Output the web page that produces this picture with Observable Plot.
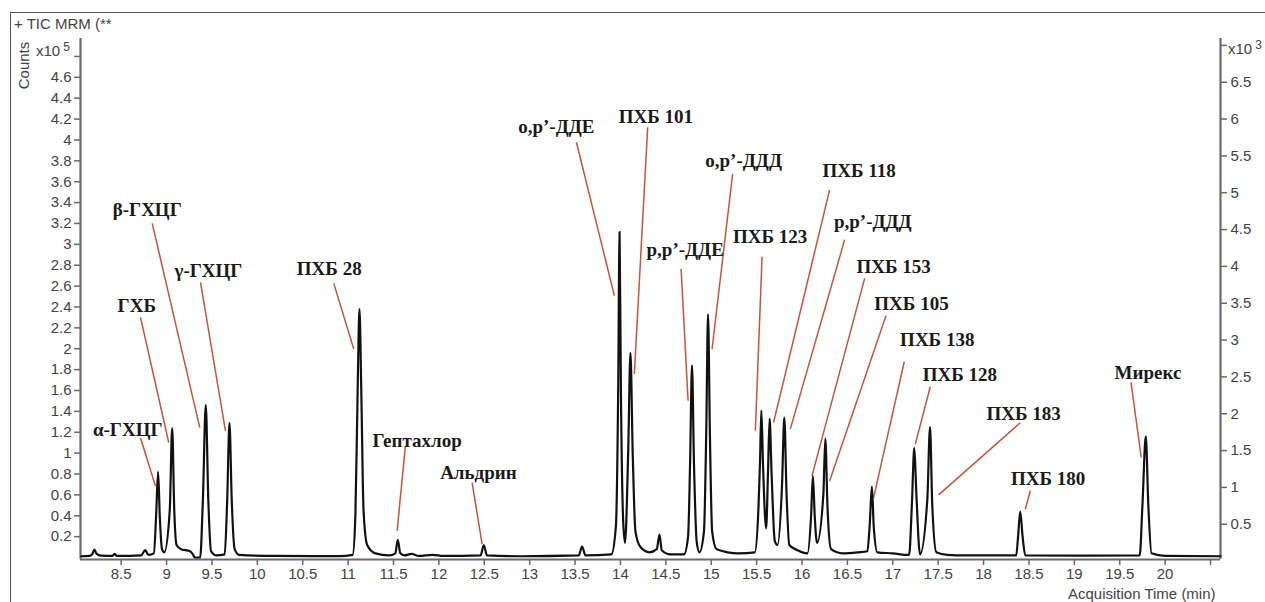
<!DOCTYPE html>
<html>
<head>
<meta charset="utf-8">
<script src="https://cdn.jsdelivr.net/npm/d3@7"></script>
<script src="https://cdn.jsdelivr.net/npm/@observablehq/plot@0.6"></script>
<style>
  html, body { margin: 0; padding: 0; background: #fff; overflow: hidden; }
  #wrap { position: relative; width: 1265px; height: 602px; }
  #frame { position: absolute; left: 10px; top: 12px; width: 1300px; height: 700px; border: 1.5px solid #555; }
  .ann { position: absolute; font-family: "Liberation Sans", Arial, sans-serif; font-size: 15px; color: #444; white-space: nowrap; }
  sup { font-size: 12px; vertical-align: 5px; margin-left: 3px; }
</style>
</head>
<body>
<div id="wrap">
  <div id="frame"></div>
  <div id="chart" style="position:absolute;left:0;top:0;"></div>
  <div class="ann" style="left:14px;top:15px;">+ TIC MRM (**</div>
  <div class="ann" style="left:15px;top:57px;transform:rotate(-90deg);transform-origin:center;width:50px;margin-left:-17px;text-align:center;">Counts</div>
  <div class="ann" style="left:36px;top:40px;">x10<sup>5</sup></div>
  <div class="ann" style="left:1228px;top:38px;">x10<sup>3</sup></div>
  <div class="ann" style="left:1068px;top:585px;">Acquisition Time (min)</div>
</div>
<script>
// Chromatogram trace (time in min, counts ×10^5)
const retentionTime = [
  8.06, 8.15, 8.18, 8.205, 8.23, 8.28, 8.40, 8.43, 8.45, 8.72, 8.765, 8.80, 8.86,
  8.885, 8.907, 8.925, 8.95, 8.975, 9.035, 9.062, 9.085, 9.11, 9.16, 9.26, 9.29, 9.31, 9.37,
  9.40, 9.432, 9.46, 9.49, 9.55, 9.64, 9.668, 9.693, 9.718, 9.75, 9.80, 10.2, 10.9,
  11.05, 11.08, 11.105, 11.125, 11.145, 11.17, 11.21, 11.30, 11.45, 11.52, 11.547, 11.575,
  11.62, 11.70, 11.78, 11.93, 12.05, 12.46, 12.494, 12.53, 12.9, 13.54, 13.577, 13.615,
  13.90, 13.95, 13.975, 13.99, 14.005, 14.03, 14.05, 14.085, 14.11, 14.135, 14.165, 14.22,
  14.32, 14.40, 14.43, 14.455, 14.55, 14.70, 14.745, 14.767, 14.788, 14.81, 14.84, 14.87,
  14.92, 14.945, 14.965, 14.985, 15.01, 15.06, 15.30, 15.48, 15.52, 15.537, 15.552, 15.57,
  15.605, 15.625, 15.643, 15.665, 15.70, 15.73, 15.78, 15.805, 15.83, 15.86, 15.95, 16.06,
  16.10, 16.12, 16.14, 16.165, 16.235, 16.257, 16.28, 16.32, 16.45, 16.62, 16.72, 16.745,
  16.77, 16.79, 16.83, 17.0, 17.18, 17.21, 17.237, 17.26, 17.3, 17.38, 17.41, 17.435, 17.48,
  17.6, 17.8, 18.1, 18.36, 18.38, 18.404, 18.43, 18.46, 19.0, 19.72, 19.75, 19.787, 19.815,
  19.85, 20.0, 20.61
];
const intensity = [
  0.012, 0.015, 0.03, 0.075, 0.035, 0.018, 0.015, 0.035, 0.015, 0.02, 0.07, 0.025, 0.04,
  0.4, 0.82, 0.4, 0.08, 0.05, 0.45, 1.24, 0.45, 0.12, 0.08, 0.06, 0.03, 0.0, 0.0,
  0.55, 1.46, 0.55, 0.06, 0.02, 0.03, 0.55, 1.29, 0.55, 0.08, 0.025, 0.015, 0.013,
  0.025, 0.4, 1.6, 2.38, 1.6, 0.45, 0.12, 0.04, 0.02, 0.04, 0.17, 0.04,
  0.02, 0.035, 0.015, 0.025, 0.015, 0.02, 0.12, 0.02, 0.012, 0.02, 0.105, 0.02,
  0.03, 0.3, 1.6, 3.12, 1.6, 0.35, 0.14, 1.0, 1.96, 1.0, 0.25, 0.1,
  0.05, 0.08, 0.22, 0.07, 0.03, 0.03, 0.2, 0.9, 1.84, 0.9, 0.15, 0.05,
  0.25, 1.2, 2.33, 1.2, 0.25, 0.08, 0.04, 0.05, 0.47, 0.9, 1.41, 0.9,
  0.28, 0.8, 1.33, 0.8, 0.16, 0.12, 0.7, 1.34, 0.6, 0.12, 0.07, 0.04,
  0.4, 0.78, 0.4, 0.14, 0.6, 1.14, 0.5, 0.08, 0.04, 0.05, 0.06, 0.3,
  0.68, 0.3, 0.05, 0.04, 0.025, 0.5, 1.05, 0.6, 0.03, 0.55, 1.25, 0.5, 0.05,
  0.025, 0.02, 0.02, 0.02, 0.2, 0.44, 0.2, 0.02, 0.018, 0.02, 0.5, 1.16, 0.5,
  0.04, 0.015, 0.012
];

// Peak labels: name, label centre (time, counts), leader from -> to
const labelNames = ["α-ГХЦГ", "ГХБ", "β-ГХЦГ", "γ-ГХЦГ", "ПХБ 28", "Гептахлор", "Альдрин",
  "o,p’-ДДЕ", "ПХБ 101", "p,p’-ДДЕ", "o,p’-ДДД", "ПХБ 123", "ПХБ 118", "p,p’-ДДД",
  "ПХБ 153", "ПХБ 105", "ПХБ 138", "ПХБ 128", "ПХБ 183", "ПХБ 180", "Мирекс"];
const labelTime = [8.572, 8.672, 8.787, 9.462, 10.792, 11.760, 12.435, 13.294, 14.390, 14.713,
  15.357, 15.648, 16.629, 16.780, 17.009, 17.206, 17.490, 17.740, 18.441, 18.711, 19.811];
const labelCounts = [1.223, 2.412, 3.330, 2.748, 2.764, 1.118, 0.814, 4.128, 4.224, 2.946,
  3.802, 3.067, 3.700, 3.211, 2.786, 2.429, 2.086, 1.748, 1.374, 0.751, 1.773];
const leaderTime1 = [8.713, 8.713, 8.842, 9.374, 10.842, 11.631, 12.366, 13.515, 14.300, 14.668,
  15.236, 15.560, 16.304, 16.470, 16.690, 16.925, 17.127, 17.413, 18.404, 18.515, 19.624];
const leaderCounts1 = [1.144, 2.300, 3.201, 2.636, 2.626, 1.070, 0.718, 3.978, 4.122, 2.764,
  3.675, 2.882, 3.522, 3.045, 2.674, 2.316, 1.878, 1.636, 1.291, 0.639, 1.677];
const leaderTime2 = [8.878, 9.024, 9.366, 9.649, 11.062, 11.540, 12.476, 13.933, 14.153, 14.745,
  15.009, 15.486, 15.687, 15.871, 16.110, 16.304, 16.789, 17.248, 17.505, 18.460, 19.737];
const leaderCounts2 = [0.686, 1.102, 1.245, 1.214, 1.997, 0.255, 0.128, 2.508, 1.757, 1.501,
  1.997, 1.214, 1.293, 1.230, 0.782, 0.734, 0.574, 1.086, 0.600, 0.463, 0.958];

// Axis ticks
const xTicks = [8.5, 9, 9.5, 10, 10.5, 11, 11.5, 12, 12.5, 13, 13.5, 14, 14.5, 15, 15.5, 16,
  16.5, 17, 17.5, 18, 18.5, 19, 19.5, 20];
const xExtraTicks = [20.5];
const leftTicks = [0.2, 0.4, 0.6, 0.8, 1, 1.2, 1.4, 1.6, 1.8, 2, 2.2, 2.4, 2.6, 2.8, 3, 3.2,
  3.4, 3.6, 3.8, 4, 4.2, 4.4, 4.6];
const leftExtraTicks = [4.8];
const rightTicks = [0.5, 1, 1.5, 2, 2.5, 3, 3.5, 4, 4.5, 5, 5.5, 6, 6.5];
const rightTickLabels = ["0.5", "1", "1.5", "2", "2.5", "3", "3.5", "4", "4.5", "5", "5.5", "6", "6.5"];
const rightExtraTicks = [7];

// right axis (×10^3) expressed in left-axis units (×10^5)
const rightToLeft = d3.scaleLinear().domain([0, 6.5]).range([-0.034, 4.553]);
const rightPos = rightTicks.map(r => rightToLeft(r));
const rightExtraPos = rightExtraTicks.map(r => rightToLeft(r));

const trace = retentionTime.map((t, i) => ({t, v: intensity[i]}));
const labels = labelNames.map((name, i) => ({
  name, t: labelTime[i], v: labelCounts[i],
  t1: leaderTime1[i], v1: leaderCounts1[i], t2: leaderTime2[i], v2: leaderCounts2[i]
}));

const xDomain = [8.052, 20.61];
const yDomain = [-0.019, 4.972];
const axisColor = "#6a6a6a";
const textColor = "#444";

const chart = Plot.plot({
  width: 1265,
  height: 602,
  marginLeft: 80,
  marginRight: 45,
  marginTop: 38,
  marginBottom: 43,
  style: {fontFamily: "'Liberation Sans', Arial, sans-serif", fontSize: "15px", background: "transparent", overflow: "visible"},
  x: {domain: xDomain},
  y: {domain: yDomain},
  marks: [
    Plot.axisX({ticks: xTicks, tickSize: 6, tickPadding: 3, fontSize: 15, fill: textColor, stroke: axisColor, strokeWidth: 1.5, label: null, tickFormat: d => String(d)}),
    Plot.axisX({ticks: xExtraTicks, tickSize: 6, stroke: axisColor, strokeWidth: 1.5, label: null, tickFormat: () => ""}),
    Plot.axisY({ticks: leftTicks, tickSize: 6, tickPadding: 3, fontSize: 15, fill: textColor, stroke: axisColor, strokeWidth: 1.5, label: null, tickFormat: d => String(d)}),
    Plot.axisY({ticks: leftExtraTicks, tickSize: 6, stroke: axisColor, strokeWidth: 1.5, label: null, tickFormat: () => ""}),
    Plot.axisY({anchor: "right", ticks: rightPos, tickSize: 6, tickPadding: 4, fontSize: 15, fill: textColor, stroke: axisColor, strokeWidth: 1.5, label: null,
      tickFormat: d => rightTickLabels[rightPos.indexOf(d)]}),
    Plot.axisY({anchor: "right", ticks: rightExtraPos, tickSize: 6, stroke: axisColor, strokeWidth: 1.5, label: null, tickFormat: () => ""}),
    Plot.ruleX([xDomain[0]], {stroke: axisColor, strokeWidth: 2.2}),
    Plot.ruleX([xDomain[1]], {stroke: axisColor, strokeWidth: 2.2}),
    Plot.ruleY([yDomain[0]], {stroke: axisColor, strokeWidth: 2.2}),
    Plot.link(labels, {x1: "t1", y1: "v1", x2: "t2", y2: "v2", stroke: "#c4553a", strokeWidth: 1.5}),
    Plot.line(trace, {x: "t", y: "v", stroke: "#111", strokeWidth: 2.2, curve: "monotone-x"}),
    Plot.text(labels, {x: "t", y: "v", text: "name", fontFamily: "'Liberation Serif', 'Times New Roman', serif", fontWeight: "bold", fontSize: 19, fill: "#1a1a1a"})
  ]
});
document.getElementById("chart").appendChild(chart);
</script>
</body>
</html>
